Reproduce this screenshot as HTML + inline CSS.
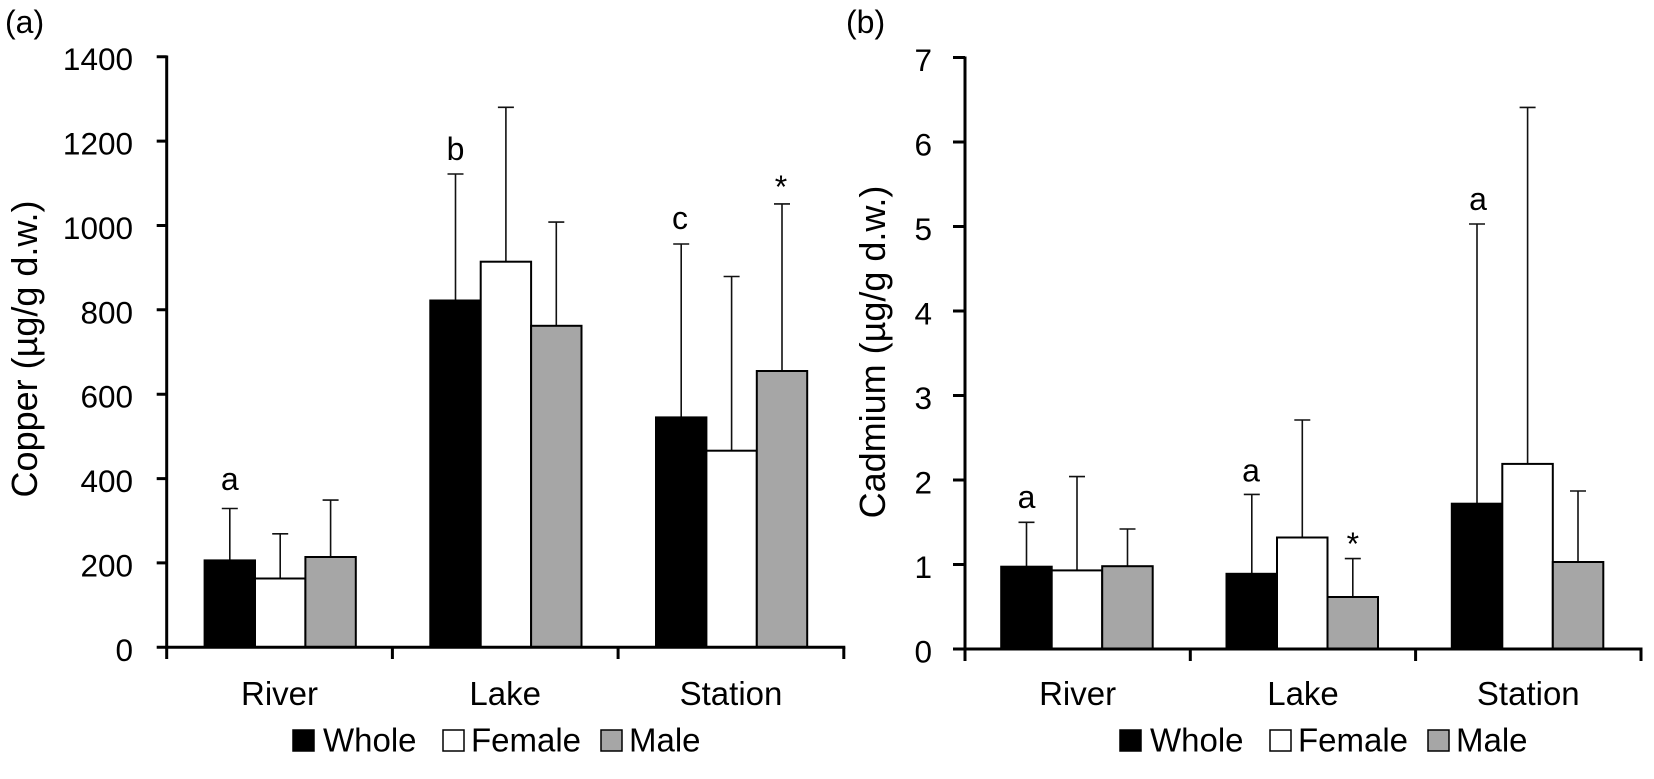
<!DOCTYPE html>
<html>
<head>
<meta charset="utf-8">
<style>
  html, body { margin: 0; padding: 0; background: #fff; }
  svg { display: block; }
  text { font-family: "Liberation Sans", Arial, sans-serif; fill: #000; }
</style>
</head>
<body>
<svg width="1654" height="779" viewBox="0 0 1654 779" xmlns="http://www.w3.org/2000/svg">
  <rect width="1654" height="779" fill="#fff"/>

  <!-- ================= LEFT CHART (a) ================= -->
  <text x="5" y="33" font-size="32">(a)</text>

  <!-- y-axis title -->
  <text transform="translate(37,349) rotate(-90)" text-anchor="middle" font-size="36">Copper (µg/g d.w.)</text>

  <!-- tick labels -->
  <g font-size="31.5" text-anchor="end">
    <text x="133" y="660.8">0</text>
    <text x="133" y="576.4">200</text>
    <text x="133" y="492.1">400</text>
    <text x="133" y="407.7">600</text>
    <text x="133" y="323.3">800</text>
    <text x="133" y="239.0">1000</text>
    <text x="133" y="154.6">1200</text>
    <text x="133" y="70.2">1400</text>
  </g>

  <!-- error bars -->
  <g stroke="#111" stroke-width="1.6" fill="none">
    <path d="M229.8 560.4 V508.5 M221.8 508.5 H237.8"/>
    <path d="M280.2 578.5 V533.8 M272.2 533.8 H288.2"/>
    <path d="M330.6 557.0 V500.1 M322.6 500.1 H338.6"/>
    <path d="M455.5 300.5 V174.0 M447.5 174.0 H463.5"/>
    <path d="M505.9 261.7 V107.3 M497.9 107.3 H513.9"/>
    <path d="M556.3 325.8 V222.1 M548.3 222.1 H564.3"/>
    <path d="M681.2 417.4 V244.0 M673.2 244.0 H689.2"/>
    <path d="M731.6 450.7 V276.5 M723.6 276.5 H739.6"/>
    <path d="M782.0 371.0 V203.9 M774.0 203.9 H790.0"/>
  </g>

  <!-- bars -->
  <g stroke="#000" stroke-width="2">
    <rect x="204.6" y="560.4" width="50.4" height="86.9" fill="#000"/>
    <rect x="255.0" y="578.5" width="50.4" height="68.8" fill="#fff"/>
    <rect x="305.4" y="557.0" width="50.4" height="90.3" fill="#a6a6a6"/>
    <rect x="430.3" y="300.5" width="50.4" height="346.8" fill="#000"/>
    <rect x="480.7" y="261.7" width="50.4" height="385.6" fill="#fff"/>
    <rect x="531.1" y="325.8" width="50.4" height="321.5" fill="#a6a6a6"/>
    <rect x="656.0" y="417.4" width="50.4" height="229.9" fill="#000"/>
    <rect x="706.4" y="450.7" width="50.4" height="196.6" fill="#fff"/>
    <rect x="756.8" y="371.0" width="50.4" height="276.3" fill="#a6a6a6"/>
  </g>

  <!-- annotations -->
  <g font-size="32" text-anchor="middle">
    <text x="229.8" y="490">a</text>
    <text x="455.5" y="160">b</text>
    <text x="680" y="229">c</text>
    <text x="781" y="198">*</text>
  </g>

  <!-- axes -->
  <g stroke="#000" stroke-width="3" fill="none">
    <path d="M166.7 55.5 V648.8"/>
    <path d="M165.2 647.3 H845.3"/>
    <path d="M156.7 647.3 H166.7 M156.7 562.9 H166.7 M156.7 478.6 H166.7 M156.7 394.2 H166.7 M156.7 309.8 H166.7 M156.7 225.5 H166.7 M156.7 141.1 H166.7 M156.7 56.7 H166.7"/>
    <path d="M166.7 647.3 V659 M392.4 647.3 V659 M618.1 647.3 V659 M843.8 647.3 V659"/>
  </g>

  <!-- category labels -->
  <g font-size="33" text-anchor="middle">
    <text x="279.5" y="705">River</text>
    <text x="505.2" y="705">Lake</text>
    <text x="731" y="705">Station</text>
  </g>

  <!-- legend -->
  <rect x="293" y="730" width="21" height="21" fill="#000" stroke="#000" stroke-width="1.5"/>
  <text x="323" y="751.5" font-size="33">Whole</text>
  <rect x="443" y="730" width="21" height="21" fill="#fff" stroke="#000" stroke-width="1.5"/>
  <text x="471" y="751.5" font-size="33">Female</text>
  <rect x="601" y="730" width="21" height="21" fill="#a6a6a6" stroke="#000" stroke-width="1.5"/>
  <text x="629" y="751.5" font-size="33">Male</text>

  <!-- ================= RIGHT CHART (b) ================= -->
  <text x="846" y="33" font-size="32">(b)</text>

  <text transform="translate(885,352) rotate(-90)" text-anchor="middle" font-size="36">Cadmium (µg/g d.w.)</text>

  <g font-size="31.5" text-anchor="end">
    <text x="932" y="662.5">0</text>
    <text x="932" y="578">1</text>
    <text x="932" y="493.5">2</text>
    <text x="932" y="409">3</text>
    <text x="932" y="324.5">4</text>
    <text x="932" y="240">5</text>
    <text x="932" y="155.5">6</text>
    <text x="932" y="71">7</text>
  </g>

  <g stroke="#111" stroke-width="1.6" fill="none">
    <path d="M1026.5 566.7 V522.3 M1018.5 522.3 H1034.5"/>
    <path d="M1077 570.4 V476.6 M1069 476.6 H1085"/>
    <path d="M1127.5 566.2 V529.0 M1119.5 529.0 H1135.5"/>
    <path d="M1251.8 573.8 V494.4 M1243.8 494.4 H1259.8"/>
    <path d="M1302.3 537.5 V420.0 M1294.3 420.0 H1310.3"/>
    <path d="M1352.8 597.0 V558.6 M1344.8 558.6 H1360.8"/>
    <path d="M1477 503.7 V224.0 M1469 224.0 H1485"/>
    <path d="M1527.6 463.9 V107.4 M1519.6 107.4 H1535.6"/>
    <path d="M1578 562.0 V491.0 M1570 491.0 H1586"/>
  </g>

  <g stroke="#000" stroke-width="2">
    <rect x="1001.2" y="566.7" width="50.5" height="82.3" fill="#000"/>
    <rect x="1051.7" y="570.4" width="50.5" height="78.6" fill="#fff"/>
    <rect x="1102.2" y="566.2" width="50.5" height="82.8" fill="#a6a6a6"/>
    <rect x="1226.5" y="573.8" width="50.5" height="75.2" fill="#000"/>
    <rect x="1277.0" y="537.5" width="50.5" height="111.5" fill="#fff"/>
    <rect x="1327.5" y="597.0" width="50.5" height="52.0" fill="#a6a6a6"/>
    <rect x="1451.8" y="503.7" width="50.5" height="145.3" fill="#000"/>
    <rect x="1502.3" y="463.9" width="50.5" height="185.1" fill="#fff"/>
    <rect x="1552.8" y="562.0" width="50.5" height="87.0" fill="#a6a6a6"/>
  </g>

  <g font-size="32" text-anchor="middle">
    <text x="1026.5" y="508">a</text>
    <text x="1251" y="481.5">a</text>
    <text x="1352.8" y="555">*</text>
    <text x="1478" y="210">a</text>
  </g>

  <g stroke="#000" stroke-width="3" fill="none">
    <path d="M965 56.5 V650.5"/>
    <path d="M963.5 649 H1642.5"/>
    <path d="M953 649 H965 M953 564.5 H965 M953 480 H965 M953 395.5 H965 M953 311 H965 M953 226.5 H965 M953 142 H965 M953 57.5 H965"/>
    <path d="M965 649 V661 M1190.3 649 V661 M1415.6 649 V661 M1641 649 V661"/>
  </g>

  <g font-size="33" text-anchor="middle">
    <text x="1077.6" y="705">River</text>
    <text x="1303" y="705">Lake</text>
    <text x="1528.3" y="705">Station</text>
  </g>

  <rect x="1120" y="730" width="21" height="21" fill="#000" stroke="#000" stroke-width="1.5"/>
  <text x="1150" y="751.5" font-size="33">Whole</text>
  <rect x="1270" y="730" width="21" height="21" fill="#fff" stroke="#000" stroke-width="1.5"/>
  <text x="1298" y="751.5" font-size="33">Female</text>
  <rect x="1428" y="730" width="21" height="21" fill="#a6a6a6" stroke="#000" stroke-width="1.5"/>
  <text x="1456" y="751.5" font-size="33">Male</text>
</svg>
</body>
</html>
